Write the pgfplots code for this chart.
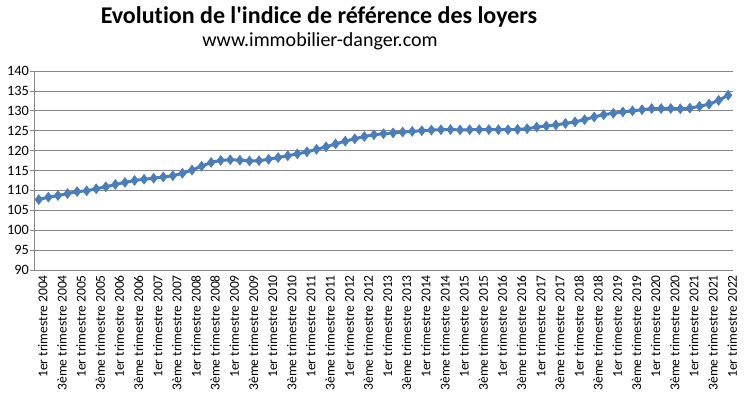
\documentclass[border=0pt]{standalone}
\usepackage{pgfplots}
\pgfplotsset{compat=1.18}
\usepackage{fontspec}
\setmainfont{Carlito}[Ligatures={TeX,NoCommon}]
\definecolor{serie}{HTML}{4A7EBB}
\definecolor{gridgray}{HTML}{868686}
\begin{document}
\begin{tikzpicture}
\useasboundingbox (-34pt,-129pt) rectangle (711pt,270pt);
\begin{axis}[
  at={(0pt,0pt)}, anchor=south west,
  scale only axis, width=699pt, height=199pt,
  xmin=-0.5, xmax=72.5, ymin=90, ymax=140,
  axis x line*=bottom, axis y line*=left,
  axis line style={gridgray, line width=0.8pt, -},
  ytick={90,95,...,140},
  ymajorgrids, major grid style={gridgray, line width=0.8pt},
  ytick style={gridgray, line width=0.8pt},
  ytick align=outside, major tick length=4pt,
  xtick={0,2,...,72},
  xtick style={draw=none},
  minor xtick={-0.5,0.5,...,72.5},
  minor tick length=4pt,
  minor x tick style={gridgray, line width=0.8pt},
  xtick align=outside,
  xticklabels={1er trimestre 2004,3ème trimestre 2004,1er trimestre 2005,3ème trimestre 2005,1er trimestre 2006,3ème trimestre 2006,1er trimestre 2007,3ème trimestre 2007,1er trimestre 2008,3ème trimestre 2008,1er trimestre 2009,3ème trimestre 2009,1er trimestre 2010,3ème trimestre 2010,1er trimestre 2011,3ème trimestre 2011,1er trimestre 2012,3ème trimestre 2012,1er trimestre 2013,3ème trimestre 2013,1er trimestre 2014,3ème trimestre 2014,1er trimestre 2015,3ème trimestre 2015,1er trimestre 2016,3ème trimestre 2016,1er trimestre 2017,3ème trimestre 2017,1er trimestre 2018,3ème trimestre 2018,1er trimestre 2019,3ème trimestre 2019,1er trimestre 2020,3ème trimestre 2020,1er trimestre 2021,3ème trimestre 2021,1er trimestre 2022},
  xticklabel style={rotate=90, anchor=east, font=\fontsize{13.5}{15}\selectfont, inner sep=1pt, yshift=-4pt},
  yticklabel style={font=\fontsize{14.3}{16}\selectfont, inner sep=1pt},
  /pgf/number format/assume math mode=true,
  clip=false,
]
\addplot[serie, line width=3pt, mark=diamond*, mark size=5pt, mark options={fill=serie, line width=0.5pt}] coordinates {
(0,107.7) (1,108.3) (2,108.7) (3,109.2)
(4,109.7) (5,109.9) (6,110.4) (7,110.9)
(8,111.5) (9,112.0) (10,112.5) (11,112.8)
(12,113.07) (13,113.37) (14,113.68) (15,114.30)
(16,115.12) (17,116.07) (18,117.03) (19,117.54)
(20,117.70) (21,117.59) (22,117.41) (23,117.47)
(24,117.81) (25,118.26) (26,118.70) (27,119.17)
(28,119.69) (29,120.31) (30,120.95) (31,121.68)
(32,122.37) (33,122.96) (34,123.55) (35,123.97)
(36,124.25) (37,124.44) (38,124.66) (39,124.83)
(40,125.00) (41,125.15) (42,125.24) (43,125.29)
(44,125.19) (45,125.25) (46,125.26) (47,125.28)
(48,125.26) (49,125.25) (50,125.33) (51,125.50)
(52,125.90) (53,126.19) (54,126.46) (55,126.82)
(56,127.22) (57,127.77) (58,128.45) (59,129.03)
(60,129.38) (61,129.72) (62,129.99) (63,130.26)
(64,130.57) (65,130.57) (66,130.59) (67,130.52)
(68,130.69) (69,131.12) (70,131.67) (71,132.62)
(72,133.93)
};
\end{axis}
\node[font=\fontsize{24}{28}\selectfont\bfseries] at (285pt,253pt) {Evolution de l\textquotesingle indice de référence des loyers};
\node[font=\fontsize{20}{24}\selectfont] at (286pt,229pt) {www.immobilier-danger.com};
\end{tikzpicture}
\end{document}
